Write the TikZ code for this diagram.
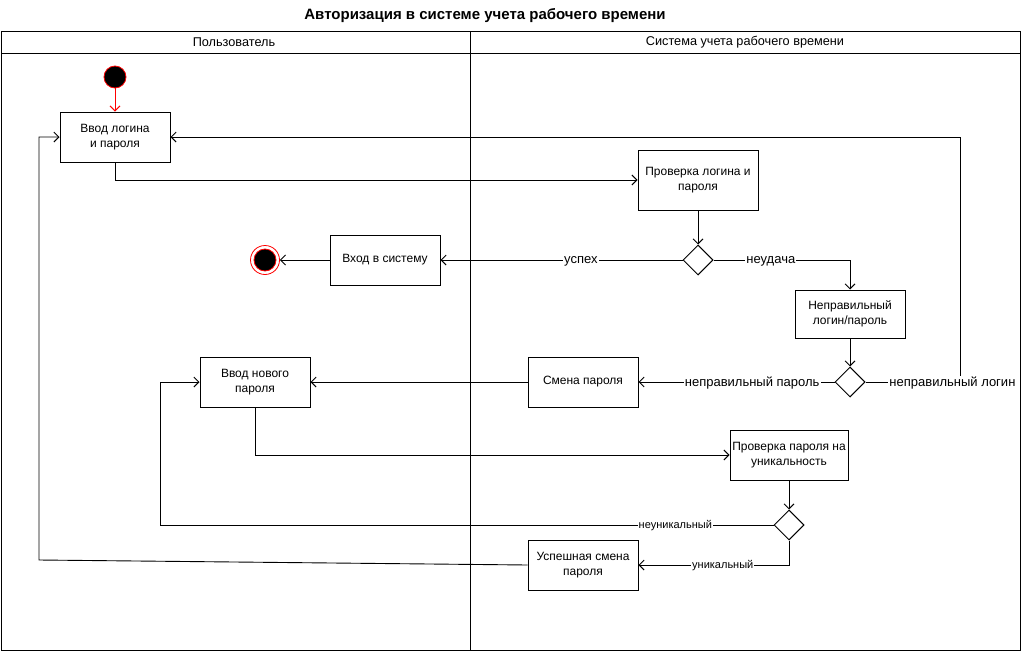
\documentclass[tikz,border=0pt]{standalone}
\usepackage{fontspec}
\setmainfont{Liberation Sans}
\usetikzlibrary{arrows.meta,shapes.geometric}
\begin{document}
\begin{tikzpicture}[x=1pt,y=-1pt,
  every node/.style={font=\fontsize{12}{15}\selectfont},
  actbox/.style={draw, line width=1pt, minimum width=110pt, minimum height=50pt, align=center, inner sep=2pt},
  dec/.style={draw, line width=1pt, shape=diamond, minimum width=30pt, minimum height=30pt, inner sep=0pt},
  flow/.style={draw, line width=0.9pt, -{Straight Barb[length=5pt,width=10pt]}},
  lbl/.style={fill=white, inner sep=1pt, yshift=-1.5pt, font=\fontsize{13}{15}\selectfont},
  slbl/.style={fill=white, inner sep=1pt, yshift=-1pt, font=\fontsize{11}{12}\selectfont},
  hdr/.style={font=\fontsize{12.7}{15}\selectfont},
  lane/.style={draw, line width=1pt}
]
\useasboundingbox (0,0) rectangle (1021,651);
\node[font=\fontsize{15}{17}\bfseries] (title) at (485,16) {Авторизация в системе учета рабочего времени};
% pool
\draw[lane] (1,31) rectangle (1020,650);
\draw[lane] (1,53) -- (1020,53);
\draw[lane] (470,31) -- (470,650);
\node[hdr] (l1) at (234,42) {Пользователь};
\node[hdr] (l2) at (745,42) {Система учета рабочего времени};
% start & end
\node[circle, draw=red, line width=0.8pt, fill=black, minimum size=22pt, inner sep=0pt] (start) at (115,77) {};
\node[circle, draw=red, line width=0.8pt, fill=white, minimum size=29pt, inner sep=0pt] (endo) at (265,260) {};
\node[circle, draw=red, line width=0.8pt, fill=black, minimum size=22pt, inner sep=0pt] (endi) at (265,260) {};
% activities
\node[actbox] (b1) at (115,137) {Ввод логина\\и пароля};
\node[actbox, minimum width=120pt, minimum height=60pt] (b2) at (698,180) {Проверка логина и\\пароля};
\node[dec] (d1) at (698,260) {};
\node[actbox] (b3) at (385,260) {Вход в систему};
\node[actbox, minimum height=48pt] (b4) at (850,314) {Неправильный\\логин/пароль};
\node[dec] (d2) at (850,382) {};
\node[actbox] (b5) at (583,382) {Смена пароля};
\node[actbox] (b6) at (255,382) {Ввод нового\\пароля};
\node[actbox, minimum width=118pt] (b7) at (789,455) {Проверка пароля на\\уникальность};
\node[dec] (d3) at (789,525) {};
\node[actbox] (b8) at (583,565) {Успешная смена\\пароля};
\coordinate (c1) at (115,180);
\coordinate (c2) at (960,382);
\coordinate (c3) at (960,137);
\coordinate (c4) at (255,455);
\coordinate (c5) at (160,525);
\coordinate (c6) at (160,382);
\coordinate (c7) at (39,560);
\coordinate (c8) at (39,137);
\coordinate (c9) at (850,260);
% connectors
\draw[flow, draw=red] (start) -- (b1);
\draw[flow] (b1.south) -- (c1) -- (b2.west |- c1);
\draw[flow] (b2) -- (d1);
\draw[flow] (d1.west) -- node[lbl, pos=0.42] (t1) {успех} (b3.east);
\draw[flow] (b3.west) -- (endo.east);
\draw[flow] (d1.east) -- node[lbl, pos=0.42] (t2) {неудача} (c9) -- (b4.north);
\draw[flow] (b4) -- (d2);
\draw[flow] (d2.east) -- node[lbl, pos=0.92] (t3) {неправильный логин} (c2) -- (c3) -- (b1.east);
\draw[flow] (d2.west) -- node[lbl, pos=0.42] (t4) {неправильный пароль} (b5.east);
\draw[flow] (b5.west) -- (b6.east);
\draw[flow] (b6.south) -- (c4) -- (b7.west);
\draw[flow] (b7) -- (d3);
\draw[flow] (d3.west) -- node[slbl, pos=0.16] (t5) {неуникальный} (c5) -- (c6) -- (b6.west);
\draw[flow] (d3.south) |- node[slbl, pos=0.72] (t6) {уникальный} (b8.east);
\draw[flow] (b8.west) -- (c7) -- (c8) -- (b1.west);
\end{tikzpicture}
\end{document}
